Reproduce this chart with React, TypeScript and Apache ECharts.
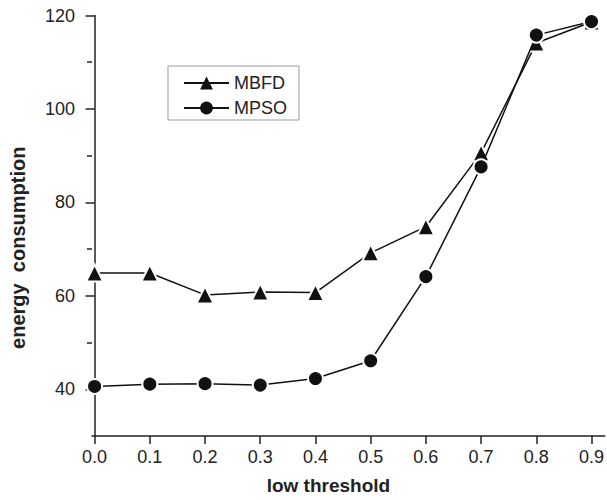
import React, { useEffect, useRef } from "react";
import * as echarts from "echarts";

const thresholds = [0.0, 0.1, 0.2, 0.3, 0.4, 0.5, 0.6, 0.7, 0.8, 0.9];
const mbfd = [64.9, 64.9, 60.2, 60.8, 60.7, 69.2, 74.8, 90.6, 114.1, 118.6];
const mpso = [40.6, 41.1, 41.2, 40.9, 42.3, 46.1, 64.1, 87.6, 115.8, 118.7];
const xTicks = [0.0, 0.1, 0.2, 0.3, 0.4, 0.5, 0.6, 0.7, 0.8, 0.9];
const yMajor = [40, 60, 80, 100, 120];
const yMinor = [50, 70, 90, 110];

const FONT = "Liberation Sans, Arial, sans-serif";

export default function App() {
  const ref = useRef<HTMLDivElement>(null);
  useEffect(() => {
    if (!ref.current) return;
    const chart = echarts.init(ref.current, null, { renderer: "svg" });
    const pts = (arr: number[]) => thresholds.map((x, i) => [x, arr[i]]);
    chart.setOption({
      animation: false,
      backgroundColor: "#fff",
      grid: { left: 91, top: 15.5, right: 0, bottom: 62.3, containLabel: false },
      legend: {
        orient: "vertical",
        left: 168,
        top: 66,
        borderColor: "#999",
        borderWidth: 1,
        padding: [8, 12, 3, 15],
        itemWidth: 45,
        itemHeight: 16,
        itemGap: 7,
        itemStyle: { borderWidth: 0 },
        textStyle: { fontFamily: FONT, fontSize: 18, color: "#222" },
        data: ["MBFD", "MPSO"],
      },
      xAxis: {
        type: "value",
        min: -0.0047,
        max: 0.924,
        name: "low threshold",
        nameLocation: "middle",
        nameGap: 40,
        nameTextStyle: {
          fontFamily: FONT,
          fontSize: 19,
          fontWeight: "bold",
          color: "#222",
          padding: [0, 40, 0, 0],
        },
        axisLine: { lineStyle: { color: "#222", width: 1.5 } },
        axisTick: {
          show: true,
          length: 8,
          inside: false,
          customValues: xTicks,
          lineStyle: { color: "#222", width: 1.5 },
        },
        axisLabel: {
          customValues: xTicks,
          formatter: (v: number) => v.toFixed(1),
          fontFamily: FONT,
          fontSize: 18,
          color: "#222",
          margin: 12,
        },
        splitLine: { show: false },
      },
      yAxis: [
        {
          type: "value",
          min: 30,
          max: 120,
          name: "energy  consumption",
          nameLocation: "middle",
          nameGap: 64,
          nameTextStyle: {
            fontFamily: FONT,
            fontSize: 20,
            fontWeight: "bold",
            color: "#222",
            padding: [0, 44, 0, 0],
          },
          axisLine: { show: true, lineStyle: { color: "#222", width: 1.5 } },
          axisTick: {
            show: true,
            length: 9,
            customValues: yMajor,
            lineStyle: { color: "#222", width: 1.5 },
          },
          axisLabel: {
            customValues: yMajor,
            fontFamily: FONT,
            fontSize: 18,
            color: "#222",
            margin: 17,
          },
          splitLine: { show: false },
        },
        {
          type: "value",
          min: 30,
          max: 120,
          position: "left",
          axisLine: { show: false },
          axisTick: {
            show: true,
            length: 5,
            customValues: yMinor,
            lineStyle: { color: "#222", width: 1.5 },
          },
          axisLabel: { show: false },
          splitLine: { show: false },
        },
      ],
      series: [
        {
          name: "MBFD",
          type: "line",
          data: pts(mbfd),
          symbol: "triangle",
          symbolSize: 17,
          lineStyle: { color: "#111", width: 1.5 },
          itemStyle: { color: "#111", borderColor: "#fff", borderWidth: 2 },
          z: 2,
        },
        {
          name: "MPSO",
          type: "line",
          data: pts(mpso),
          symbol: "circle",
          symbolSize: 15,
          lineStyle: { color: "#111", width: 1.5 },
          itemStyle: { color: "#111", borderColor: "#fff", borderWidth: 2 },
          z: 3,
        },
      ],
    });
    return () => chart.dispose();
  }, []);
  return (
    <div
      ref={ref}
      style={{ position: "fixed", left: 0, top: 0, width: 607, height: 500 }}
    />
  );
}
